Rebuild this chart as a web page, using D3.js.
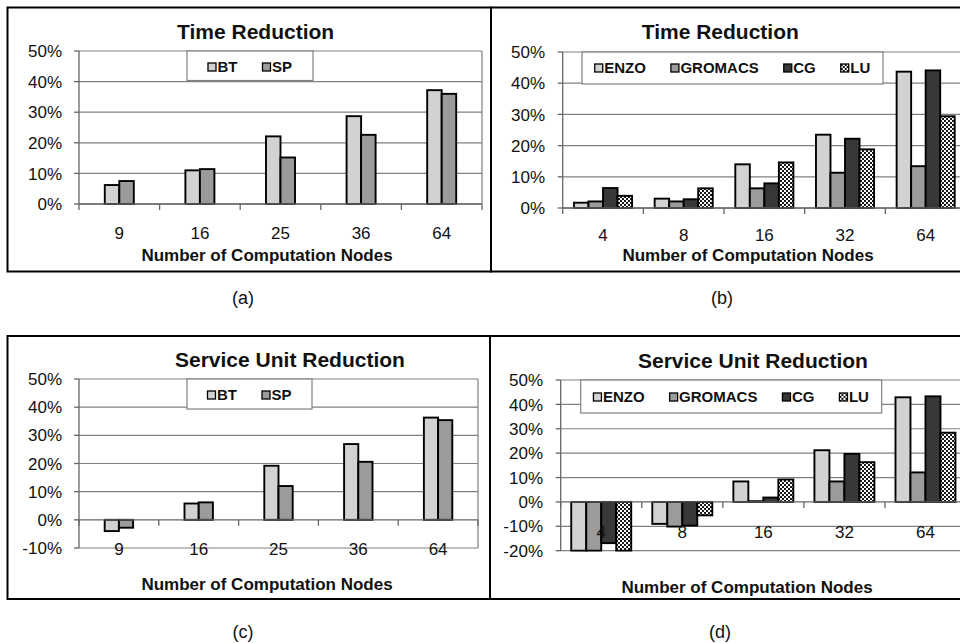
<!DOCTYPE html>
<html><head><meta charset="utf-8">
<script src="https://cdn.jsdelivr.net/npm/d3@7"></script>
<style>body{margin:0;background:#fff}svg{display:block;font-family:"Liberation Sans",Arial,sans-serif}</style>
</head><body>
<svg id="c" width="960" height="643"></svg>
<script>
// ---- data ----
const nodesLeft = ["9","16","25","36","64"];
const nodesRight = ["4","8","16","32","64"];
const seriesLeft = ["BT","SP"];
const seriesRight = ["ENZO","GROMACS","CG","LU"];
// (a) Time reduction, %
const timeBT = [6.2, 11.0, 22.1, 28.7, 37.2];
const timeSP = [7.5, 11.4, 15.2, 22.6, 36.0];
// (b) Time reduction, %
const timeENZO = [1.7, 3.0, 14.0, 23.5, 43.7];
const timeGROMACS = [2.1, 2.1, 6.3, 11.3, 13.4];
const timeCG = [6.4, 2.8, 7.9, 22.2, 44.1];
const timeLU = [3.9, 6.3, 14.6, 18.8, 29.4];
// (c) Service unit reduction, %
const suBT = [-4.0, 5.8, 19.2, 26.9, 36.3];
const suSP = [-2.8, 6.2, 12.0, 20.6, 35.4];
// (d) Service unit reduction, %
const suENZO = [-20, -9.0, 8.4, 21.2, 42.9];
const suGROMACS = [-20, -10.1, 0.3, 8.4, 12.1];
const suCG = [-16.9, -9.7, 1.8, 19.7, 43.3];
const suLU = [-20, -5.5, 9.2, 16.3, 28.4];
const ticksAB = [0,10,20,30,40,50];
const ticksC = [-10,0,10,20,30,40,50];
const ticksD = [-20,-10,0,10,20,30,40,50];
const panelLabels = ["(a)","(b)","(c)","(d)"];

const fills = {BT:"#d2d2d2", SP:"#9b9b9b", ENZO:"#d2d2d2", GROMACS:"#9b9b9b", CG:"#383838", LU:"url(#checker)"};

const svg = d3.select("#c");
const defs = svg.append("defs");
const pat = defs.append("pattern").attr("id","checker").attr("width",4).attr("height",4).attr("patternUnits","userSpaceOnUse");
pat.append("rect").attr("width",4).attr("height",4).attr("fill","#fff");
pat.append("rect").attr("width",2).attr("height",2).attr("fill","#1a1a1a");
pat.append("rect").attr("x",2).attr("y",2).attr("width",2).attr("height",2).attr("fill","#1a1a1a");

// panel borders
const borders = [[7.5,7.5,491,271.5],[491,7.5,1000,271.5],[7.5,336,490,599],[490,336,1000,599]];
borders.forEach(b=>svg.append("rect").attr("x",b[0]).attr("y",b[1]).attr("width",b[2]-b[0]).attr("height",b[3]-b[1])
  .attr("fill","none").attr("stroke","#000").attr("stroke-width",2));

let clipId = 0;
function panel(o){
  const g = svg.append("g");
  const y = d3.scaleLinear().domain(o.domain).range([o.bottom,o.top]);
  const x = d3.scaleBand().domain(o.cats).range([o.left,o.right]).padding(0);
  const inner = d3.scaleBand().domain(o.series.map(s=>s.name))
    .range([0, x.bandwidth()*o.frac]);
  const off = x.bandwidth()*(1-o.frac)/2;
  // gridlines
  g.append("g").selectAll("line").data(o.ticks.filter(t=>t!==0 && t!==o.domain[0])).join("line")
    .attr("x1",o.left).attr("x2",o.right).attr("y1",d=>y(d)).attr("y2",d=>y(d))
    .attr("stroke","#808080").attr("stroke-width",1.2);
  // plot border (right / bottom)
  g.append("line").attr("x1",o.right).attr("x2",o.right).attr("y1",o.top).attr("y2",o.bottom).attr("stroke","#808080").attr("stroke-width",1.2);
  g.append("line").attr("x1",o.left).attr("x2",o.right).attr("y1",o.bottom).attr("y2",o.bottom).attr("stroke","#808080").attr("stroke-width",1.2);
  // legend box
  const lb = o.legendBox;
  g.append("rect").attr("x",lb[0]).attr("y",lb[1]).attr("width",lb[2]-lb[0]).attr("height",lb[3]-lb[1])
    .attr("fill","#fff").attr("stroke","#808080").attr("stroke-width",1.2);
  // bars
  const cid = "clip"+(clipId++);
  defs.append("clipPath").attr("id",cid).append("rect").attr("x",o.left-2).attr("y",o.top-2).attr("width",o.right-o.left+4).attr("height",o.bottom-o.top+3);
  const bars = g.append("g").attr("clip-path","url(#"+cid+")");
  o.series.forEach(s=>{
    bars.selectAll(null).data(s.values.map((v,i)=>({c:o.cats[i],v}))).join("rect")
      .attr("x",d=>x(d.c)+off+inner(s.name))
      .attr("width",inner.bandwidth())
      .attr("y",d=>y(Math.max(0,d.v)))
      .attr("height",d=>Math.abs(y(d.v)-y(0)))
      .attr("fill",fills[s.name]).attr("stroke","#000").attr("stroke-width",1.9);
  });
  // y axis
  const ya = g.append("g");
  ya.append("line").attr("x1",o.left).attr("x2",o.left).attr("y1",o.top).attr("y2",o.bottom).attr("stroke","#666").attr("stroke-width",1.3);
  ya.selectAll("line.t").data(o.ticks).join("line").attr("class","t")
    .attr("x1",o.left-5).attr("x2",o.left).attr("y1",d=>y(d)).attr("y2",d=>y(d)).attr("stroke","#666").attr("stroke-width",1.3);
  ya.selectAll("text").data(o.ticks).join("text")
    .attr("x",o.yLabelRight).attr("y",d=>y(d)).attr("dy","0.36em").attr("text-anchor","end")
    .attr("font-size",17).attr("fill","#111").text(d=>d+"%");
  // x axis at 0
  const xa = g.append("g");
  xa.append("line").attr("x1",o.left).attr("x2",o.right).attr("y1",y(0)).attr("y2",y(0)).attr("stroke","#666").attr("stroke-width",1.3);
  const edges = o.cats.map(c=>x(c)).concat([o.right]);
  xa.selectAll("line.t").data(edges).join("line").attr("class","t")
    .attr("x1",d=>d).attr("x2",d=>d).attr("y1",y(0)).attr("y2",y(0)+6).attr("stroke","#666").attr("stroke-width",1.3);
  xa.selectAll("text").data(o.cats).join("text")
    .attr("x",d=>x(d)+x.bandwidth()/2).attr("y",o.catY).attr("text-anchor","middle")
    .attr("font-size",17).attr("fill","#111").text(d=>d);
  // titles
  g.append("text").attr("x",o.titleX).attr("y",o.titleY).attr("font-size",21).attr("font-weight","bold").attr("fill","#111").text(o.title);
  g.append("text").attr("x",o.xTitleX).attr("y",o.xTitleY).attr("text-anchor","middle").attr("font-size",17).attr("font-weight","bold").attr("fill","#111").text("Number of Computation Nodes");
  // legend items
  const lg = g.append("g");
  let cx = 0;
  o.series.forEach((s,i)=>{
    const it = lg.append("g").attr("transform","translate("+cx+",0)");
    it.append("rect").attr("x",0).attr("y",o.legendY-9).attr("width",8).attr("height",8)
      .attr("fill",fills[s.name]).attr("stroke","#000").attr("stroke-width",1.3);
    const t = it.append("text").attr("x",9.5).attr("y",o.legendY).attr("font-size",15).attr("font-weight","bold").attr("fill","#111").text(s.name);
    cx += 9.5 + t.node().getComputedTextLength() + (i<o.series.length-1 ? o.legendGap : 0);
  });
  const lcx = (lb[0]+lb[2])/2;
  lg.attr("transform","translate("+(lcx-cx/2)+",0)");
}

panel({cats:nodesLeft, series:[{name:"BT",values:timeBT},{name:"SP",values:timeSP}],
  domain:[0,50], ticks:ticksAB, left:79, right:482, top:51, bottom:204, frac:0.36,
  yLabelRight:62, catY:239, title:"Time Reduction", titleX:177, titleY:39,
  xTitleX:267, xTitleY:261, legendBox:[187,51,313,80.5], legendY:72, legendGap:25});
panel({cats:nodesRight, series:[{name:"ENZO",values:timeENZO},{name:"GROMACS",values:timeGROMACS},{name:"CG",values:timeCG},{name:"LU",values:timeLU}],
  domain:[0,50], ticks:ticksAB, left:562.7, right:966, top:52, bottom:208, frac:0.72,
  yLabelRight:545, catY:241, title:"Time Reduction", titleX:641.7, titleY:39,
  xTitleX:748, xTitleY:261, legendBox:[582,52,883,84], legendY:73, legendGap:25});
panel({cats:nodesLeft, series:[{name:"BT",values:suBT},{name:"SP",values:suSP}],
  domain:[-10,50], ticks:ticksC, left:79, right:478, top:379, bottom:548, frac:0.356,
  yLabelRight:62, catY:555, title:"Service Unit Reduction", titleX:175, titleY:367,
  xTitleX:267, xTitleY:590, legendBox:[187,379,312,409], legendY:400, legendGap:25});
panel({cats:nodesRight, series:[{name:"ENZO",values:suENZO},{name:"GROMACS",values:suGROMACS},{name:"CG",values:suCG},{name:"LU",values:suLU}],
  domain:[-20,50], ticks:ticksD, left:560.7, right:966, top:380, bottom:550.7, frac:0.74,
  yLabelRight:543, catY:537.5, title:"Service Unit Reduction", titleX:638, titleY:368,
  xTitleX:747, xTitleY:593, legendBox:[580.7,380,881.7,413], legendY:402, legendGap:25});

// panel captions
const capPos = [[243,304],[722,304],[243,638],[720,638]];
svg.selectAll("text.cap").data(panelLabels).join("text").attr("class","cap")
  .attr("x",(d,i)=>capPos[i][0]).attr("y",(d,i)=>capPos[i][1]).attr("text-anchor","middle")
  .attr("font-size",18).attr("fill","#111").text(d=>d);
</script>
</body></html>
